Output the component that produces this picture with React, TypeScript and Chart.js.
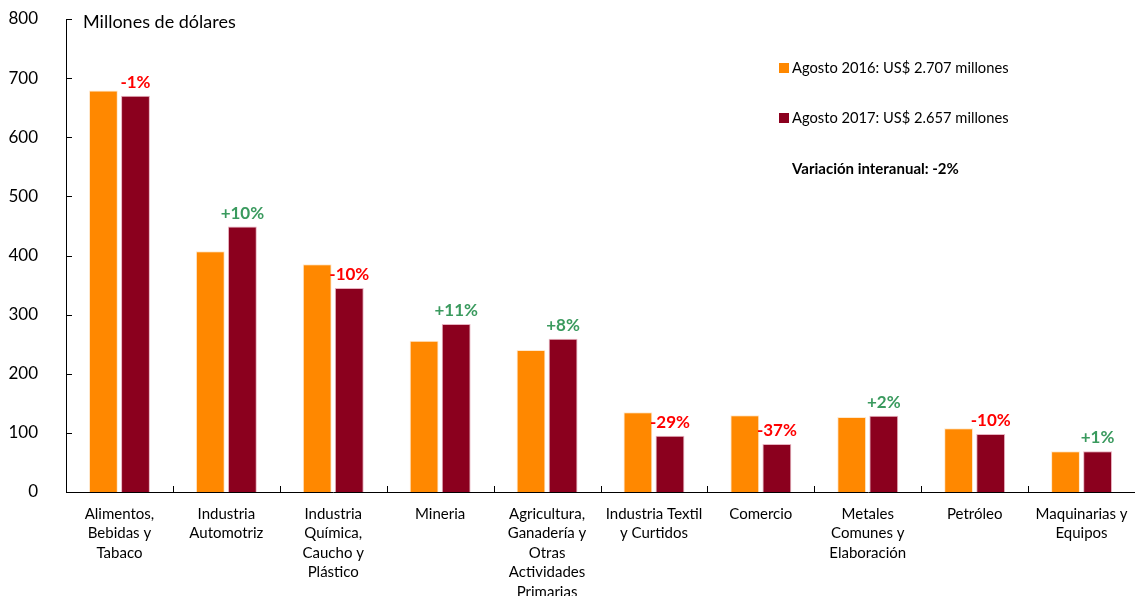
import React, { useEffect, useRef } from "react";
import { Chart, registerables } from "chart.js";

Chart.register(...registerables);

const categories: string[][] = [
  ["Alimentos,", "Bebidas y", "Tabaco"],
  ["Industria", "Automotriz"],
  ["Industria", "Química,", "Caucho y", "Plástico"],
  ["Mineria"],
  ["Agricultura,", "Ganadería y", "Otras", "Actividades", "Primarias"],
  ["Industria Textil", "y Curtidos"],
  ["Comercio"],
  ["Metales", "Comunes y", "Elaboración"],
  ["Petróleo"],
  ["Maquinarias y", "Equipos"],
];

const agosto2016: number[] = [679, 407, 385, 256, 240, 135, 130, 127, 108, 69];
const agosto2017: number[] = [670, 449, 345, 284, 259, 95, 81, 129, 98, 69];
const variacion: string[] = ["-1%", "+10%", "-10%", "+11%", "+8%", "-29%", "-37%", "+2%", "-10%", "+1%"];

const label2016 = "Agosto 2016: US$ 2.707 millones";
const label2017 = "Agosto 2017: US$ 2.657 millones";
const totalNote = "Variación interanual: -2%";
const unitTitle = "Millones de dólares";

const FONT = "Lato, 'Open Sans', sans-serif";
const ORANGE = "#FF8800";
const MAROON = "#8B001E";

const overlayPlugin = {
  id: "overlay",
  afterDraw(chart: any) {
    const ctx = chart.ctx as CanvasRenderingContext2D;
    const area = chart.chartArea;
    const ys = chart.scales.y;
    ctx.save();
    // inside tick marks
    ctx.strokeStyle = "#000";
    ctx.lineWidth = 1;
    ys.ticks.forEach((t: any) => {
      const y = Math.round(ys.getPixelForValue(t.value)) + 0.5;
      ctx.beginPath();
      ctx.moveTo(area.left, y);
      ctx.lineTo(area.left + 6, y);
      ctx.stroke();
    });
    const n = chart.data.labels.length;
    for (let i = 1; i <= n; i++) {
      const x = Math.round(area.left + (i * (area.right - area.left)) / n) + 0.5;
      ctx.beginPath();
      ctx.moveTo(x, area.bottom);
      ctx.lineTo(x, area.bottom - 6);
      ctx.stroke();
    }
    // variation labels
    const meta = chart.getDatasetMeta(1);
    ctx.font = `bold 17px ${FONT}`;
    ctx.textAlign = "center";
    ctx.textBaseline = "bottom";
    meta.data.forEach((bar: any, i: number) => {
      const txt = variacion[i];
      ctx.fillStyle = txt.startsWith("+") ? "#3A9A5E" : "#FF0000";
      ctx.fillText(txt, bar.x, bar.y - 5);
    });
    // unit title
    ctx.fillStyle = "#000";
    ctx.font = `18px ${FONT}`;
    ctx.textAlign = "left";
    ctx.textBaseline = "middle";
    ctx.fillText(unitTitle, area.left + 17, 22);
    // legend
    const ds = chart.data.datasets;
    const legendY = [68, 118];
    ds.forEach((d: any, i: number) => {
      ctx.fillStyle = d.backgroundColor;
      ctx.fillRect(779, legendY[i] - 5, 10, 10);
      ctx.fillStyle = "#000";
      ctx.font = `14.7px ${FONT}`;
      ctx.fillText(d.label, 792, legendY[i]);
    });
    ctx.font = `bold 15px ${FONT}`;
    ctx.fillText(totalNote, 792, 169);
    ctx.restore();
  },
};

export default function App() {
  const ref = useRef<HTMLCanvasElement | null>(null);
  useEffect(() => {
    if (!ref.current) return;
    const chart = new Chart(ref.current, {
      type: "bar",
      data: {
        labels: categories,
        datasets: [
          {
            label: label2016,
            data: agosto2016,
            backgroundColor: ORANGE,
            borderColor: "rgba(255,230,200,0.9)",
            borderWidth: 1,
            categoryPercentage: 0.6,
            barPercentage: 0.9,
          },
          {
            label: label2017,
            data: agosto2017,
            backgroundColor: MAROON,
            borderColor: "rgba(230,170,185,0.9)",
            borderWidth: 1,
            categoryPercentage: 0.6,
            barPercentage: 0.9,
          },
        ],
      },
      options: {
        animation: false,
        responsive: false,
        layout: { padding: { top: 19, right: 0, left: 0, bottom: 0 } },
        plugins: {
          legend: { display: false },
          tooltip: { enabled: false },
          title: { display: false },
        },
        scales: {
          x: {
            grid: { display: false },
            border: { display: true, color: "#000", width: 1 },
            ticks: {
              color: "#000",
              font: { family: FONT, size: 15, lineHeight: 1.3 },
              padding: 4,
              maxRotation: 0,
              autoSkip: false,
            },
            afterFit: (s: any) => {
              s.height = 104;
              s.paddingLeft = 0;
              s.paddingRight = 0;
            },
          },
          y: {
            min: 0,
            max: 800,
            grid: { display: false },
            border: { display: true, color: "#000", width: 1 },
            ticks: {
              stepSize: 100,
              color: "#000",
              font: { family: FONT, size: 17 },
              padding: 20,
            },
            afterFit: (s: any) => {
              s.width = 66;
              s.paddingTop = 0;
              s.paddingBottom = 0;
            },
          },
        },
      },
      plugins: [overlayPlugin],
    });
    return () => chart.destroy();
  }, []);
  return (
    <div style={{ position: "absolute", left: 0, top: 0, width: 1135, height: 596, background: "#fff" }}>
      <canvas ref={ref} width={1135} height={596} style={{ display: "block" }} />
    </div>
  );
}
